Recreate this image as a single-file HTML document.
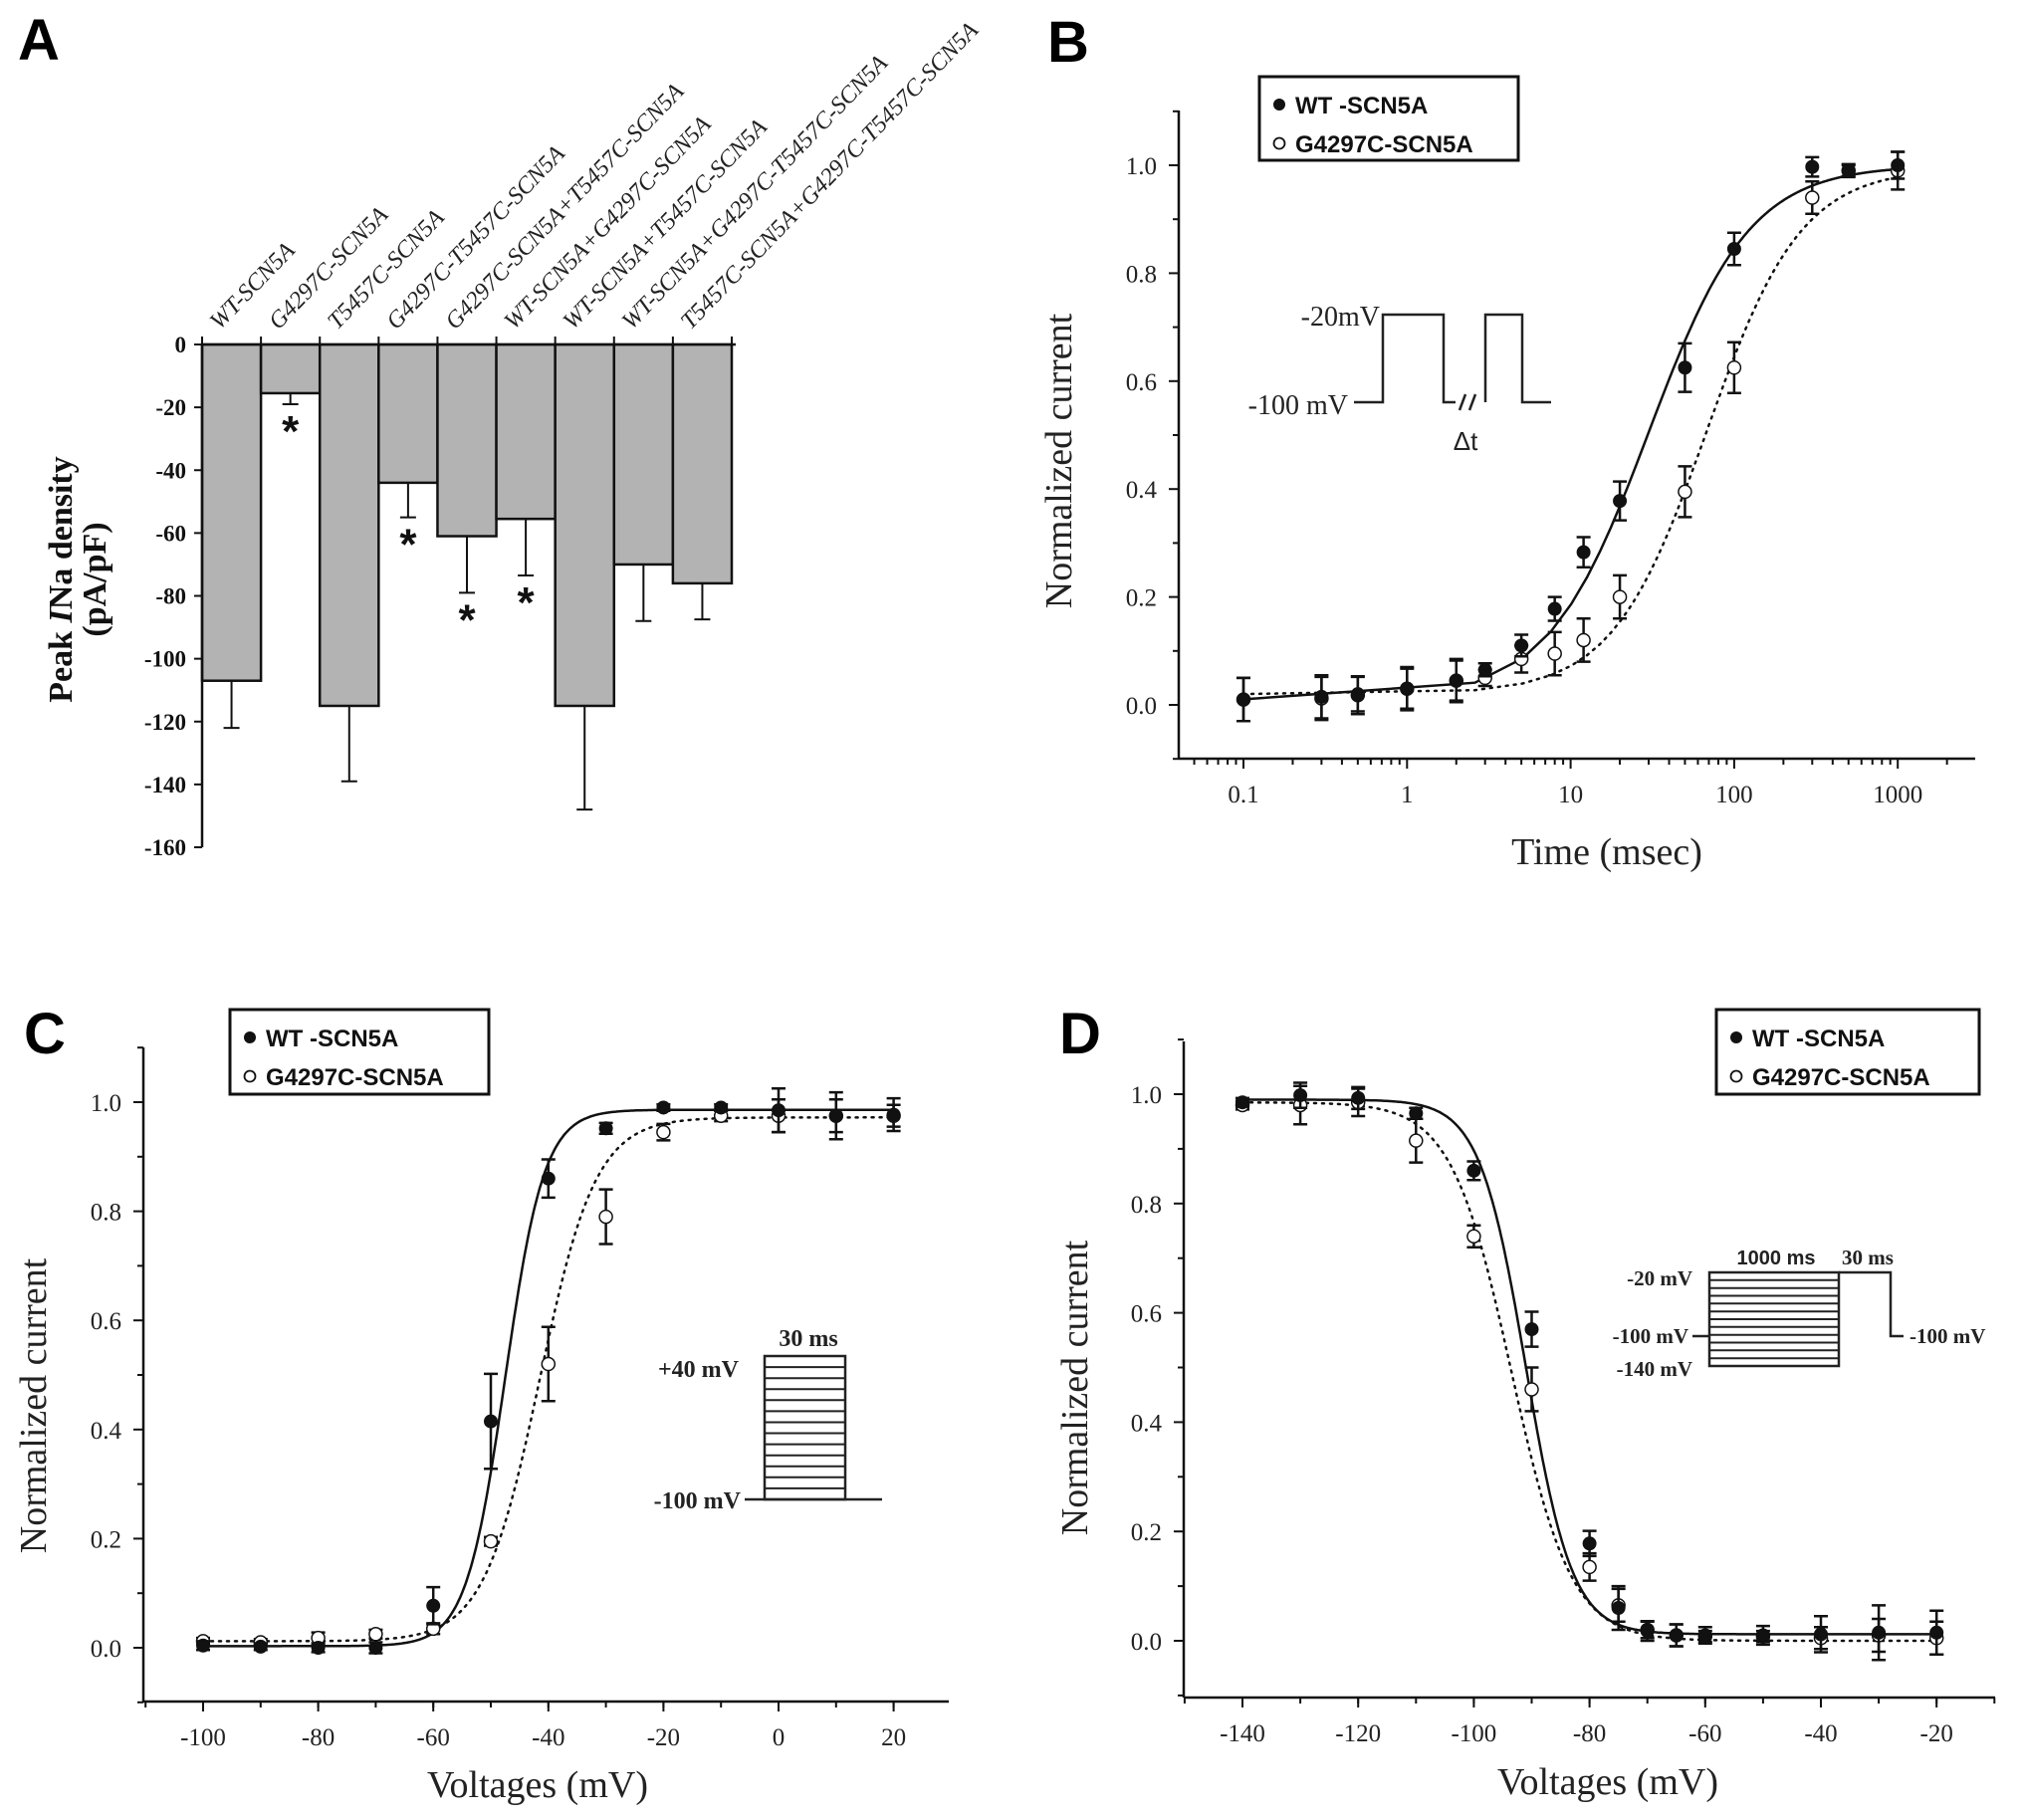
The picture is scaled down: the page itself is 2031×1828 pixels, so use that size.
<!DOCTYPE html>
<html><head><meta charset="utf-8"><style>
html,body{margin:0;padding:0;background:#fff;}
svg{display:block;}
.tk{font-family:"Liberation Serif",serif;font-size:25px;fill:#222;}
.tt{font-family:"Liberation Serif",serif;font-size:38px;fill:#222;}
.lg{font-family:"Liberation Sans",sans-serif;font-weight:bold;font-size:24px;fill:#111;}
.pl{font-family:"Liberation Sans",sans-serif;font-weight:bold;font-size:58px;fill:#000;}
.ins{font-family:"Liberation Serif",serif;font-weight:bold;font-size:24px;fill:#222;}
</style></head><body>
<svg id="fig" width="2031" height="1828" viewBox="0 0 2031 1828" xmlns="http://www.w3.org/2000/svg">
<rect width="2031" height="1828" fill="#fff"/>
<text class="pl" x="18" y="60">A</text>
<text class="pl" x="1052" y="62">B</text>
<text class="pl" x="24" y="1058">C</text>
<text class="pl" x="1064" y="1058">D</text>
<g id="pa"></g>
<g id="pb"></g>
<g id="pc"></g>
<g id="pd"></g>
</svg>
<script>
// ---------- Panel A data ----------
const aCategories = ["WT-SCN5A","G4297C-SCN5A","T5457C-SCN5A","G4297C-T5457C-SCN5A","G4297C-SCN5A+T5457C-SCN5A","WT-SCN5A+G4297C-SCN5A","WT-SCN5A+T5457C-SCN5A","WT-SCN5A+G4297C-T5457C-SCN5A","T5457C-SCN5A+G4297C-T5457C-SCN5A"];
const aValues = [-107,-15.5,-115,-44,-61,-55.5,-115,-70,-76];
const aErrors = [15,3.5,24,11,18,18,33,18,11.5];
const aSignificant = [false,true,false,true,true,true,false,false,false];
const aTicks = [0,-20,-40,-60,-80,-100,-120,-140,-160];
// ---------- Panel B data ----------
const bTimes = [0.1,0.3,0.5,1,2,3,5,8,12,20,50,100,300,500,1000];
const bWT = [0.01,0.015,0.02,0.03,0.045,0.065,0.11,0.178,0.283,0.378,0.625,0.845,0.997,0.99,1.0];
const bWTErr = [0.04,0.04,0.032,0.037,0.037,0.012,0.02,0.022,0.028,0.036,0.045,0.03,0.018,0.01,0.025];
const bG = [0.01,0.012,0.018,0.03,0.045,0.05,0.085,0.095,0.12,0.2,0.395,0.625,0.94,0.99,0.99];
const bGErr = [0.04,0.04,0.035,0.04,0.04,0.015,0.025,0.04,0.04,0.04,0.047,0.047,0.03,0.012,0.035];
const bWTFit = [0.01,1.0,30,1.4];   // bottom, top, t-half, slope
const bGFit = [0.02,0.995,68,1.5];
const bXTicks = [0.1,1,10,100,1000];
const bYTicks = [0,0.2,0.4,0.6,0.8,1.0];
// ---------- Panel C data ----------
const cVolts = [-100,-90,-80,-70,-60,-50,-40,-30,-20,-10,0,10,20];
const cWT = [0.004,0.002,0,0,0.077,0.415,0.86,0.952,0.99,0.99,0.985,0.975,0.977];
const cWTErr = [0.008,0.006,0.008,0.01,0.034,0.087,0.035,0.01,0.006,0.006,0.04,0.043,0.03];
const cG = [0.012,0.01,0.018,0.025,0.035,0.195,0.52,0.79,0.945,0.975,0.975,0.975,0.975];
const cGErr = [0.006,0.006,0.01,0.008,0.01,0.008,0.068,0.05,0.015,0.01,0.03,0.03,0.02];
const cWTFit = [0.003,0.986,-47.5,3.4];  // bottom, top, V-half, k
const cGFit = [0.012,0.972,-41.5,4.9];
const cXTicks = [-100,-80,-60,-40,-20,0,20];
const cYTicks = [0,0.2,0.4,0.6,0.8,1.0];
// ---------- Panel D data ----------
const dVolts = [-140,-130,-120,-110,-100,-90,-80,-75,-70,-65,-60,-50,-40,-30,-20];
const dWT = [0.985,0.998,0.993,0.965,0.86,0.57,0.178,0.06,0.018,0.01,0.01,0.01,0.012,0.015,0.015];
const dWTErr = [0.008,0.023,0.02,0.01,0.017,0.032,0.023,0.04,0.018,0.02,0.015,0.017,0.033,0.05,0.04];
const dG = [0.98,0.98,0.985,0.915,0.74,0.46,0.135,0.065,0.02,0.01,0.008,0.008,0.005,0.01,0.005];
const dGErr = [0.008,0.035,0.025,0.04,0.02,0.04,0.025,0.03,0.015,0.02,0.01,0.01,0.02,0.03,0.03];
const dWTFit = [0.012,0.99,-91,-4.0];
const dGFit = [0.0,0.985,-93.5,-5.2];
const dXTicks = [-140,-120,-100,-80,-60,-40,-20];
const dYTicks = [0,0.2,0.4,0.6,0.8,1.0];

const NS = "http://www.w3.org/2000/svg";
function mk(parent, tag, attrs, text){
  const e = document.createElementNS(NS, tag);
  for (const k in attrs) e.setAttribute(k, attrs[k]);
  if (text !== undefined) e.textContent = text;
  parent.appendChild(e);
  return e;
}
const fmt = v => v.toFixed(1);

// ================= Panel A =================
(function(){
  const g = document.getElementById('pa');
  const x0 = 203, x1 = 735, yTop = 346, yBot = 851;
  const vMin = -160;
  const ya = v => yTop + (v / vMin) * (yBot - yTop);
  const bw = (x1 - x0) / aCategories.length;
  const xa = i => x0 + i * bw;
  aValues.forEach((v,i)=>{
    const r = mk(g,'rect',{x:xa(i),y:ya(0),width:bw,height:ya(v)-ya(0),fill:'#b3b3b3',stroke:'#111','stroke-width':2.5});
    
    
    const cx = xa(i)+bw/2, e = v - aErrors[i];
    const l = mk(g,'path',{d:`M${cx},${ya(v)}V${ya(e)}M${cx-8},${ya(e)}H${cx+8}`,stroke:'#111','stroke-width':2,fill:'none'});
    
    
    if (aSignificant[i]){
      const s = mk(g,'text',{x:cx,y:ya(e)+42,'text-anchor':'middle','font-family':'Liberation Sans, sans-serif','font-weight':'bold','font-size':'44px',fill:'#111'},'*');
      
      
    }
    const t = mk(g,'text',{transform:`translate(${cx-12},${yTop-14}) rotate(-46)`,'font-family':'Liberation Serif, serif','font-style':'italic','font-size':'24px',fill:'#222'},aCategories[i]);
    
    
  });
  mk(g,'line',{x1:x0,y1:yTop,x2:x0,y2:yBot,stroke:'#111','stroke-width':2.5});
  mk(g,'line',{x1:x0,y1:yTop,x2:x1+4,y2:yTop,stroke:'#111','stroke-width':2.5});
  for (let i=0;i<=aCategories.length;i++) mk(g,'line',{x1:xa(i),y1:yTop,x2:xa(i),y2:yTop-8,stroke:'#111','stroke-width':2});
  aTicks.forEach(v=>{
    mk(g,'line',{x1:x0-8,y1:ya(v),x2:x0,y2:ya(v),stroke:'#111','stroke-width':2});
    const t = mk(g,'text',{x:x0-16,y:ya(v)+8,'text-anchor':'end','font-family':'Liberation Serif, serif','font-weight':'bold','font-size':'23px',fill:'#111'},v);
    
    
  });
  const yt = mk(g,'text',{transform:'translate(72,582) rotate(-90)','text-anchor':'middle','font-family':'Liberation Serif, serif','font-weight':'bold','font-size':'34px',fill:'#111'});
  
  
  mk(yt,'tspan',{},'Peak ');
  mk(yt,'tspan',{'font-style':'italic'},'I');
  mk(yt,'tspan',{},'Na density');
  const yt2 = mk(g,'text',{transform:'translate(106,582) rotate(-90)','text-anchor':'middle','font-family':'Liberation Serif, serif','font-weight':'bold','font-size':'34px',fill:'#111'},'(pA/pF)');
  
  
})();

// ================= Generic XY panel =================
function xyPanel(cfg){
  const g = document.getElementById(cfg.id);
  const {L,R,T,B,x,y} = cfg;
  mk(g,'line',{x1:L,y1:T,x2:L,y2:B,stroke:'#111','stroke-width':2.5});
  mk(g,'line',{x1:L,y1:B,x2:R,y2:B,stroke:'#111','stroke-width':2.5});
  for (let v=-0.1; v<=1.101; v+=0.1){
    const vv = Math.round(v*10)/10;
    const major = Math.abs(Math.round(vv*10)%2)===0;
    mk(g,'line',{x1:L-(major?10:6),y1:y(vv),x2:L,y2:y(vv),stroke:'#111','stroke-width':2});
  }
  cfg.yTicks.forEach(v=>{
    const t = mk(g,'text',{class:'tk',x:L-22,y:y(v)+9,'text-anchor':'end'},fmt(v));
    
    
  });
  cfg.xMinor.forEach(v=>{ const px=x(v); if(px>=L&&px<=R) mk(g,'line',{x1:px,y1:B,x2:px,y2:B+6,stroke:'#111','stroke-width':2}); });
  cfg.xTicks.forEach(v=>{
    mk(g,'line',{x1:x(v),y1:B,x2:x(v),y2:B+10,stroke:'#111','stroke-width':2});
    const t = mk(g,'text',{class:'tk',x:x(v),y:B+44,'text-anchor':'middle'},v);
    
    
  });
  const xt = mk(g,'text',{class:'tt',x:cfg.xTitleX,y:cfg.xTitleY,'text-anchor':'middle'},cfg.xTitle);
  
  
  const yt = mk(g,'text',{class:'tt',transform:`translate(${cfg.yTitleX},${cfg.yTitleY}) rotate(-90)`,'text-anchor':'middle'},'Normalized current');
  
  
  function curve(fn, dashed, name){
    let d='';
    for (let i=0;i<=400;i++){
      const xv = cfg.xFrom + (cfg.xTo-cfg.xFrom)*i/400;
      const px = cfg.xPix(xv), py = y(fn(xv));
      d += (i?'L':'M')+px.toFixed(1)+','+py.toFixed(1);
    }
    const p = mk(g,'path',{d,fill:'none',stroke:'#111','stroke-width':2.5,'stroke-dasharray':dashed?'2 6':'none','stroke-linecap':'round'});
    
    
  }
  curve(cfg.fitG,true,'g4297c-fit-curve');
  curve(cfg.fitWT,false,'wt-fit-curve');
  function pts(xs, ys, es, filled, name){
    xs.forEach((xv,i)=>{
      const px=x(xv), py=y(ys[i]), e=es[i];
      const eb = mk(g,'path',{d:`M${px},${y(ys[i]+e)}V${y(ys[i]-e)}M${px-7},${y(ys[i]+e)}H${px+7}M${px-7},${y(ys[i]-e)}H${px+7}`,stroke:'#111','stroke-width':2.5,fill:'none'});
      
      
      const c = mk(g,'circle',{cx:px,cy:py,r:6.5,fill:filled?'#111':'#fff',stroke:'#111','stroke-width':filled?1:1.5});
      
      
    });
  }
  pts(cfg.xs,cfg.gY,cfg.gE,false,'g4297c');
  pts(cfg.xs,cfg.wtY,cfg.wtE,true,'wt');
  const [lx,ly,lw,lh] = cfg.legend;
  const lg = mk(g,'g',{});
  
  
  mk(lg,'rect',{x:lx,y:ly,width:lw,height:lh,fill:'#fff',stroke:'#111','stroke-width':3});
  mk(lg,'circle',{cx:lx+20,cy:ly+28,r:6,fill:'#111'});
  mk(lg,'text',{class:'lg',x:lx+36,y:ly+37},'WT -SCN5A');
  mk(lg,'circle',{cx:lx+20,cy:ly+67,r:5.5,fill:'#fff',stroke:'#111','stroke-width':1.8});
  mk(lg,'text',{class:'lg',x:lx+36,y:ly+76},'G4297C-SCN5A');
}
const hill = p => t => p[0] + (p[1]-p[0])/(1+Math.pow(p[2]/t,p[3]));
const boltz = p => v => p[0] + (p[1]-p[0])/(1+Math.exp((p[2]-v)/p[3]));

// Panel B
(function(){
  const L=1184,R=1984,T=111,B=762;
  const lx = t => 1249 + (Math.log10(t)+1)*164.3;
  const y = v => 708 - v*542;
  const minor=[]; for(let d=0.01;d<10000;d*=10) for(let k=2;k<=9;k++) minor.push(d*k);
  xyPanel({id:'pb',L,R,T,B,x:lx,y,xPix:lx,xFrom:0.1,xTo:1000,
    xTicks:bXTicks,xMinor:minor,yTicks:bYTicks,xTitle:'Time (msec)',xTitleX:1614,xTitleY:868,yTitleX:1076,yTitleY:463,
    fitWT:hill(bWTFit),fitG:hill(bGFit),xs:bTimes,wtY:bWT,wtE:bWTErr,gY:bG,gE:bGErr,legend:[1265,77,260,84]});
  const g=document.getElementById('pb');
  const ins=mk(g,'g',{});  
  mk(ins,'path',{d:'M1360,404H1389V316H1450V404H1462M1492,404V316H1529V404H1558',fill:'none',stroke:'#222','stroke-width':2.5});
  mk(ins,'path',{d:'M1466,412L1472,396M1476,412L1482,396',fill:'none',stroke:'#222','stroke-width':2.5});
  mk(ins,'text',{x:1386,y:327,'text-anchor':'end',style:'font-family:Liberation Serif,serif;font-size:28px;fill:#222'},'-20mV');
  mk(ins,'text',{x:1354,y:416,'text-anchor':'end',style:'font-family:Liberation Serif,serif;font-size:28px;fill:#222'},'-100 mV');
  mk(ins,'text',{x:1472,y:452,'text-anchor':'middle',style:'font-family:Liberation Sans,sans-serif;font-size:26px;fill:#222'},'Δt');
})();

// Panel C
(function(){
  const L=144,R=953,T=1052,B=1709;
  const x = v => 204 + (v+100)*5.78;
  const y = v => 1655 - v*548;
  const minor=[]; for(let v=-110;v<=30;v+=10) minor.push(v);
  xyPanel({id:'pc',L,R,T,B,x,y,xPix:x,xFrom:-100,xTo:20,
    xTicks:cXTicks,xMinor:minor,yTicks:cYTicks,xTitle:'Voltages (mV)',xTitleX:540,xTitleY:1805,yTitleX:46,yTitleY:1412,
    fitWT:boltz(cWTFit),fitG:boltz(cGFit),xs:cVolts,wtY:cWT,wtE:cWTErr,gY:cG,gE:cGErr,legend:[231,1014,260,85]});
  const g=document.getElementById('pc');
  const ins=mk(g,'g',{});  
  mk(ins,'rect',{x:768,y:1362,width:81,height:144,fill:'none',stroke:'#222','stroke-width':2.5});
  let d=''; for(let i=1;i<13;i++){ const yy=1362+i*144/13; d+=`M768,${yy.toFixed(1)}H849`; }
  mk(ins,'path',{d,stroke:'#222','stroke-width':2,fill:'none'});
  mk(ins,'path',{d:'M748,1506H886',stroke:'#222','stroke-width':2.5});
  mk(ins,'text',{class:'ins',x:742,y:1383,'text-anchor':'end'},'+40 mV');
  mk(ins,'text',{class:'ins',x:744,y:1515,'text-anchor':'end'},'-100 mV');
  mk(ins,'text',{class:'ins',x:812,y:1352,'text-anchor':'middle'},'30 ms');
})();

// Panel D
(function(){
  const L=1189,R=2004,T=1046,B=1705;
  const x = v => 1248 + (v+140)*5.81;
  const y = v => 1648 - v*549;
  const minor=[]; for(let v=-150;v<=-10;v+=10) minor.push(v);
  xyPanel({id:'pd',L,R,T,B,x,y,xPix:x,xFrom:-140,xTo:-20,
    xTicks:dXTicks,xMinor:minor,yTicks:dYTicks,xTitle:'Voltages (mV)',xTitleX:1615,xTitleY:1802,yTitleX:1092,yTitleY:1394,
    fitWT:boltz(dWTFit),fitG:boltz(dGFit),xs:dVolts,wtY:dWT,wtE:dWTErr,gY:dG,gE:dGErr,legend:[1724,1014,264,85]});
  const g=document.getElementById('pd');
  const ins=mk(g,'g',{});  
  mk(ins,'rect',{x:1717,y:1278,width:130,height:94,fill:'none',stroke:'#222','stroke-width':2.5});
  let d=''; for(let i=1;i<12;i++){ const yy=1278+i*94/12; d+=`M1717,${yy.toFixed(1)}H1847`; }
  mk(ins,'path',{d,stroke:'#222','stroke-width':2,fill:'none'});
  mk(ins,'path',{d:'M1847,1278H1899V1342H1912M1700,1342H1717',stroke:'#222','stroke-width':2.5,fill:'none'});
  mk(ins,'text',{x:1700,y:1291,'text-anchor':'end',style:'font-family:Liberation Serif,serif;font-weight:bold;font-size:21px;fill:#222'},'-20 mV');
  mk(ins,'text',{x:1696,y:1349,'text-anchor':'end',style:'font-family:Liberation Serif,serif;font-weight:bold;font-size:21px;fill:#222'},'-100 mV');
  mk(ins,'text',{x:1700,y:1382,'text-anchor':'end',style:'font-family:Liberation Serif,serif;font-weight:bold;font-size:21px;fill:#222'},'-140 mV');
  mk(ins,'text',{x:1784,y:1270,'text-anchor':'middle',style:'font-family:Liberation Sans,sans-serif;font-weight:bold;font-size:20px;fill:#222'},'1000 ms');
  mk(ins,'text',{x:1876,y:1270,'text-anchor':'middle',style:'font-family:Liberation Serif,serif;font-weight:bold;font-size:21px;fill:#222'},'30 ms');
  mk(ins,'text',{x:1918,y:1349,style:'font-family:Liberation Serif,serif;font-weight:bold;font-size:21px;fill:#222'},'-100 mV');
})();
</script>
</body></html>
